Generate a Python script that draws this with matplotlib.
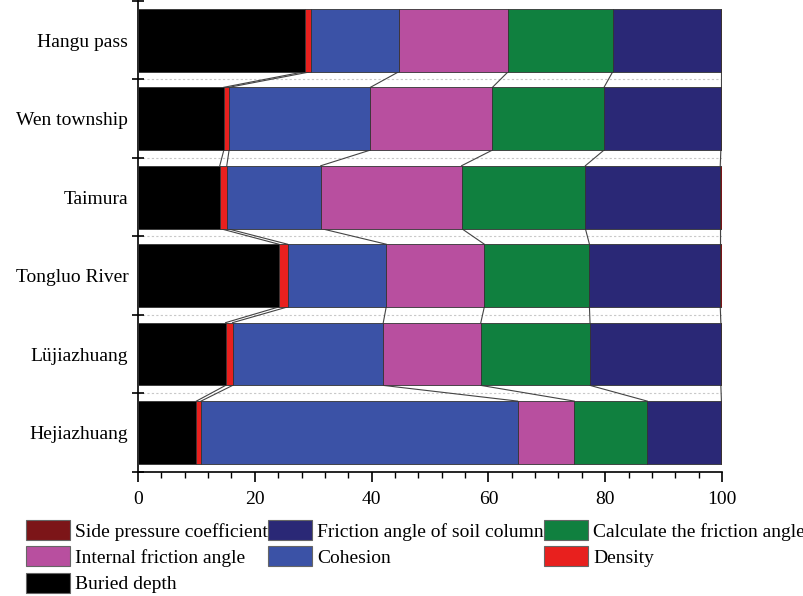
import numpy as np
import matplotlib.pyplot as plt
from matplotlib.patches import Patch
from matplotlib.ticker import MultipleLocator

# sites, listed top to bottom
sites = ["Hangu pass", "Wen township", "Taimura", "Tongluo River", "L\u00fcjiazhuang", "Hejiazhuang"]

# contribution of each factor (%)
buried_depth = [28.6, 14.7, 14.0, 24.1, 15.0, 10.0]
density = [1.1, 0.9, 1.2, 1.5, 1.2, 0.8]
cohesion = [15.0, 24.2, 16.1, 16.9, 25.8, 54.2]
internal_friction = [18.7, 20.9, 24.1, 16.8, 16.7, 9.7]
calc_friction = [17.9, 19.1, 21.2, 18.0, 18.7, 12.5]
soil_column_friction = [18.5, 20.0, 23.1, 22.4, 22.4, 12.7]
side_pressure = [0.2, 0.2, 0.3, 0.3, 0.2, 0.1]

factors = [
    ("Buried depth", buried_depth, "#000000"),
    ("Density", density, "#e8201e"),
    ("Cohesion", cohesion, "#3b52a6"),
    ("Internal friction angle", internal_friction, "#b84f9f"),
    ("Calculate the friction angle", calc_friction, "#10803f"),
    ("Friction angle of soil column", soil_column_friction, "#2a2876"),
    ("Side pressure coefficient", side_pressure, "#7c1518"),
]

plt.rcParams['font.family'] = ['Liberation Serif', 'DejaVu Serif']
plt.rcParams['font.size'] = 14

fig = plt.figure(figsize=(8.04, 5.96), dpi=100)
ax = fig.add_axes([138/804, 1 - 471.7/596, 584/804, 470.7/596])

ypos = np.arange(len(sites))[::-1]
h = 0.8
left = np.zeros(len(sites))
bounds = []
for name, vals, col in factors:
    vals = np.array(vals)
    ax.barh(ypos, vals, height=h, left=left, color=col, edgecolor='#333333', linewidth=0.6, zorder=3)
    left = left + vals
    bounds.append(left.copy())

# lines joining segment boundaries of neighbouring bars
for b in bounds:
    for i in range(len(sites) - 1):
        ax.plot([b[i], b[i+1]], [ypos[i] - h/2, ypos[i+1] + h/2], color='#444444', lw=0.8, zorder=2)

# dashed separators between the rows
for y in np.arange(0.5, len(sites) - 1, 1):
    ax.axhline(y, ls=(0, (2, 2)), color='#c8c8c8', lw=0.8, zorder=0)

ax.set_xlim(0, 100)
ax.set_ylim(-0.5, len(sites) - 0.5)
ax.xaxis.set_major_locator(MultipleLocator(20))
ax.xaxis.set_minor_locator(MultipleLocator(4))
ax.tick_params(axis='x', which='major', direction='out', length=7, width=1.2, pad=7)
ax.tick_params(axis='x', which='minor', direction='out', length=4, width=1)

ax.set_yticks(np.arange(-0.5, len(sites), 1))
ax.set_yticklabels([])
ax.set_yticks(ypos, minor=True)
ax.set_yticklabels(sites, minor=True)
ax.tick_params(axis='y', which='major', direction='inout', length=8, width=1.2)
ax.tick_params(axis='y', which='minor', length=0, pad=7)

for s in ['top', 'right']:
    ax.spines[s].set_visible(False)
ax.spines['left'].set_linewidth(1.2)
ax.spines['bottom'].set_linewidth(1.2)

# legend laid out row by row
order = [6, 3, 0, 5, 2, 4, 1]
handles = [Patch(facecolor=factors[k][2], edgecolor='#666666', linewidth=0.8, label=factors[k][0]) for k in order]
fig.legend(handles=handles, loc='upper left', bbox_to_anchor=(26/804, 1 - 520/596), ncol=3,
           frameon=False, borderpad=0, borderaxespad=0, handlelength=2.27, handleheight=1.2,
           handletextpad=0.26, columnspacing=0.0, labelspacing=0.3, fontsize=14)

fig.savefig("out.png", dpi=100)
